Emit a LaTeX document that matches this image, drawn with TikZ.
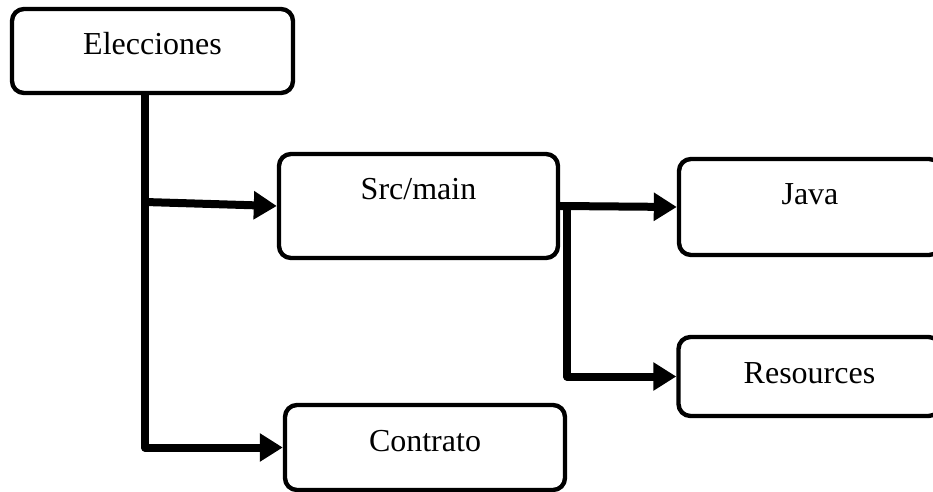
\documentclass[tikz,border=0pt]{standalone}
\usepackage{fontspec}
\setmainfont{Liberation Serif}
\usetikzlibrary{arrows.meta}
\begin{document}
\begin{tikzpicture}[x=0.5pt,y=-0.5pt,
  folder/.style={draw, line width=2.2pt, rounded corners=6pt, fill=white,
    inner xsep=0pt, inner ysep=0pt, text height=23pt,
    font=\fontsize{16}{19}\selectfont},
  link/.style={line width=4pt, line join=round,
    -{Triangle[length=11.5pt,width=13.5pt]}}]
  % canvas
  \clip (0,0) rectangle (933,492);
  \fill[white] (0,0) rectangle (933,492);

  % folder boxes (text sits near the top edge)
  \node[folder, minimum width=140.5pt, text depth=19pt]   (elec)  at (152.5,51)  {Elecciones};
  \node[folder, minimum width=139.5pt, text depth=29pt]   (src)   at (418.5,206) {Src/main};
  \node[folder, minimum width=131pt,   text depth=25pt]   (java)  at (810,207)   {Java};
  \node[folder, minimum width=131pt,   text depth=16.5pt] (res)   at (809.5,376.5) {Resources};
  \node[folder, minimum width=140pt,   text depth=19.5pt] (contr) at (425,447.5) {Contrato};

  % branch points
  \coordinate (trunk) at (145,95);
  \coordinate (fork)  at (145,202);
  \coordinate (sub)   at (567,210);

  % connectors
  \draw[link] (trunk) |- (contr.west);
  \draw[link] (fork) -- (src.west);
  \draw[link] (src.east) -- (java.west);
  \draw[link] (sub) |- (res.west);
\end{tikzpicture}
\end{document}
